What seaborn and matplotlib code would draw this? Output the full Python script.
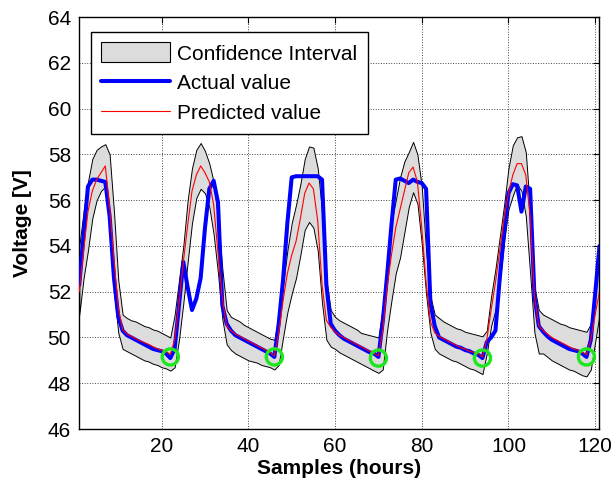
import numpy as np
import pandas as pd
import matplotlib
matplotlib.use("Agg")
import matplotlib.pyplot as plt
import seaborn as sns
from matplotlib.patches import Patch
from matplotlib.lines import Line2D

# ---------------- data ----------------
samples = list(range(1, 122))

actual = [52.3, 54.5, 56.6, 56.9, 56.9, 56.85, 56.8, 55.3, 52.6, 50.9,
          50.3, 50.1, 50.0, 49.9, 49.8, 49.7, 49.6, 49.5, 49.45, 49.4,
          49.3, 49.1, 49.5, 51.4, 53.3, 52.2, 51.2, 51.7, 52.6, 54.8,
          56.5, 56.85, 55.9, 51.4, 50.6, 50.3, 50.1, 50.0, 49.9, 49.8,
          49.7, 49.6, 49.5, 49.4, 49.3, 49.15, 50.6, 52.5, 55.0, 57.0,
          57.05, 57.05, 57.05, 57.05, 57.05, 57.05, 56.9, 52.3, 50.6, 50.3,
          50.1, 49.95, 49.85, 49.75, 49.65, 49.55, 49.45, 49.35, 49.3, 49.15,
          50.7, 52.7, 54.9, 56.9, 56.95, 56.85, 56.75, 56.9, 56.8, 56.75,
          56.5, 51.5, 50.5, 50.0, 49.9, 49.8, 49.7, 49.6, 49.55, 49.45,
          49.4, 49.3, 49.25, 49.1, 49.8, 50.0, 50.3, 52.6, 54.6, 56.3,
          56.7, 56.65, 55.5, 56.6, 56.5, 51.8, 50.5, 50.25, 50.05, 49.9,
          49.8, 49.7, 49.6, 49.5, 49.45, 49.4, 49.3, 49.15, 49.9, 51.9,
          54.0]

predicted = [52.0, 53.8, 55.5, 56.4, 56.9, 57.2, 57.5, 55.7, 53.4, 51.3,
             50.35, 50.15, 50.05, 49.95, 49.85, 49.78, 49.7, 49.6, 49.5, 49.45,
             49.4, 49.25, 49.9, 51.5, 53.3, 54.9, 56.4, 57.1, 57.5, 57.2,
             56.8, 55.8, 53.7, 51.7, 50.5, 50.3, 50.15, 50.05, 49.95, 49.85,
             49.75, 49.65, 49.55, 49.45, 49.35, 49.2, 50.2, 51.6, 52.8, 53.6,
             54.2, 55.2, 56.3, 56.75, 56.5, 55.1, 52.3, 50.75, 50.45, 50.25,
             50.1, 50.0, 49.9, 49.8, 49.7, 49.6, 49.5, 49.4, 49.3, 49.2,
             50.3, 52.2, 53.6, 54.8, 55.6, 56.4, 57.2, 57.45, 56.8, 54.8,
             52.4, 50.7, 50.2, 50.05, 49.95, 49.85, 49.75, 49.65, 49.55, 49.5,
             49.4, 49.35, 49.3, 49.15, 49.9, 51.2, 52.4, 53.8, 55.2, 56.3,
             57.1, 57.6, 57.6, 57.1, 55.3, 51.8, 50.5, 50.3, 50.15, 50.0,
             49.9, 49.8, 49.7, 49.6, 49.5, 49.45, 49.35, 49.25, 49.9, 51.0,
             52.0]

upper = [54.0, 55.5, 56.8, 57.8, 58.2, 58.35, 58.45, 58.0, 55.5, 52.5,
         51.0, 50.85, 50.75, 50.7, 50.6, 50.5, 50.45, 50.35, 50.3, 50.2,
         50.1, 50.0, 51.0, 52.5, 54.0, 56.0, 57.4, 58.2, 58.5, 58.15,
         57.6, 56.8, 55.2, 53.0, 51.2, 50.9, 50.8, 50.7, 50.55, 50.45,
         50.35, 50.25, 50.15, 50.05, 49.95, 49.9, 50.9, 52.3, 53.8, 55.0,
         55.8, 56.7, 57.8, 58.35, 58.3, 57.4, 55.5, 52.5, 51.2, 50.9,
         50.75, 50.65, 50.55, 50.45, 50.35, 50.2, 50.15, 50.1, 50.05, 50.0,
         51.3, 53.2, 55.0, 56.0, 57.0, 57.7, 58.1, 58.55, 58.0, 56.6,
         53.8, 51.8, 51.0, 50.85, 50.7, 50.6, 50.5, 50.4, 50.35, 50.25,
         50.2, 50.15, 50.1, 50.05, 50.3, 51.8, 53.0, 54.4, 55.8, 57.4,
         58.4, 58.75, 58.8, 58.1, 55.5, 52.2, 51.2, 51.0, 50.9, 50.8,
         50.7, 50.6, 50.55, 50.45, 50.4, 50.35, 50.3, 50.25, 50.6, 52.5,
         54.0]

lower = [51.0, 52.6, 53.8, 55.2, 56.0, 56.4, 56.6, 55.0, 52.0, 50.2,
         49.5, 49.4, 49.3, 49.2, 49.1, 49.0, 48.95, 48.85, 48.8, 48.7,
         48.65, 48.55, 48.7, 49.9, 51.5, 53.3, 55.0, 56.1, 56.5, 56.3,
         55.7, 54.5, 52.8, 50.8, 49.7, 49.45, 49.3, 49.2, 49.1, 49.0,
         48.95, 48.9, 48.8, 48.75, 48.7, 48.6, 48.8, 50.0, 51.1, 51.9,
         52.6, 53.6, 54.7, 55.05, 54.8, 53.8, 51.5, 49.9, 49.6, 49.5,
         49.35, 49.25, 49.15, 49.05, 48.95, 48.85, 48.75, 48.65, 48.55, 48.45,
         48.6, 50.3, 51.6, 52.8, 53.5, 54.6, 55.7, 56.35, 55.85, 54.1,
         51.9, 50.2, 49.5, 49.3, 49.2, 49.1, 49.0, 48.95, 48.85, 48.75,
         48.65, 48.6, 48.5, 48.4, 49.3, 50.5, 51.2, 52.4, 54.2, 55.6,
         56.2, 56.7, 56.4, 55.3, 52.8, 50.2, 49.3, 49.3, 49.15, 49.0,
         48.9, 48.8, 48.7, 48.6, 48.55, 48.45, 48.35, 48.3, 48.6, 49.8,
         51.0]

marker_x = [22, 46, 70, 94, 118]
marker_y = [49.15, 49.15, 49.1, 49.1, 49.15]

x_ticks = [20, 40, 60, 80, 100, 120]
y_ticks = [46, 48, 50, 52, 54, 56, 58, 60, 62, 64]

legend_labels = ["Confidence Interval", "Actual value", "Predicted value"]

# ---------------- style ----------------
sns.set_theme(style="white")
plt.rcParams["font.family"] = ["Liberation Sans", "DejaVu Sans"]
plt.rcParams.update({"text.color": "black", "axes.labelcolor": "black",
                     "xtick.color": "black", "ytick.color": "black"})

df = pd.DataFrame({"Samples": samples, "Actual": actual, "Predicted": predicted,
                   "Upper": upper, "Lower": lower})
mk = pd.DataFrame({"x": marker_x, "y": marker_y})

fig = plt.figure(figsize=(6.16, 4.83), dpi=100)
ax = fig.add_axes([0.1287, 0.1118, 0.8445, 0.8526])

band_color = "#dcdcdc"
ax.fill_between(df["Samples"], df["Lower"], df["Upper"], facecolor=band_color,
                edgecolor="black", linewidth=0.7, zorder=2)
sns.lineplot(data=df, x="Samples", y="Actual", color="#0000ff", linewidth=2.9,
             ax=ax, zorder=3, estimator=None)
sns.lineplot(data=df, x="Samples", y="Predicted", color="#ff0000", linewidth=0.8,
             ax=ax, zorder=4, estimator=None)
sns.scatterplot(data=mk, x="x", y="y", s=135, facecolor="none", edgecolor="#1ee61e",
                linewidth=2.4, ax=ax, zorder=5)

ax.set_xlim(1, 121)
ax.set_ylim(46, 64)
ax.set_xticks(x_ticks)
ax.set_yticks(y_ticks)
ax.grid(True, linestyle=":", color="#444444", linewidth=0.7)
ax.set_axisbelow(True)
ax.tick_params(direction="in", top=True, right=True, length=4, width=0.8,
               labelsize=15, pad=6, colors="black")
for s in ax.spines.values():
    s.set_color("black")
    s.set_linewidth(1.0)

ax.set_xlabel("Samples (hours)", fontsize=15, fontweight="bold", labelpad=2,
              color="black")
ax.set_ylabel("Voltage [V]", fontsize=15, fontweight="bold", labelpad=11,
              color="black")

handles = [Patch(facecolor=band_color, edgecolor="black", linewidth=0.8),
           Line2D([0], [0], color="#0000ff", linewidth=2.9),
           Line2D([0], [0], color="#ff0000", linewidth=0.8)]
leg = ax.legend(handles, legend_labels, loc="upper left",
                bbox_to_anchor=(0.0225, 0.964), borderaxespad=0,
                fontsize=15, frameon=True, fancybox=False, framealpha=1,
                edgecolor="black", handlelength=3.3, handleheight=1.1,
                handletextpad=0.35, borderpad=0.5, labelspacing=0.42,
                labelcolor="black")
leg.get_frame().set_linewidth(1.0)
leg.set_zorder(10)

fig.savefig("out.png", dpi=100, facecolor="white")
